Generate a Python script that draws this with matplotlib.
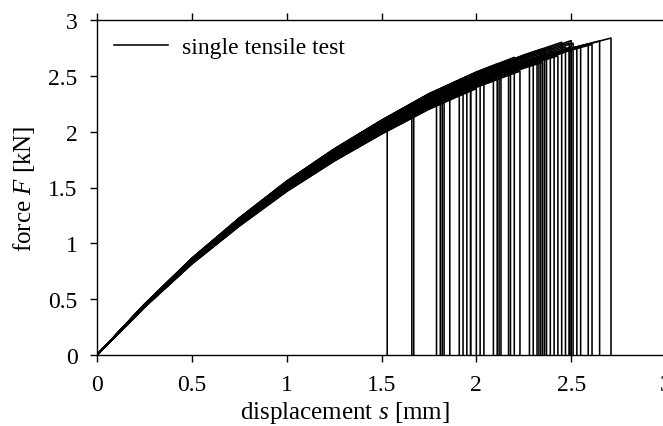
import numpy as np
import matplotlib
matplotlib.use("Agg")
import matplotlib.pyplot as plt

plt.rcParams['font.family'] = ['Liberation Serif', 'DejaVu Serif']
plt.rcParams['mathtext.fontset'] = 'custom'
plt.rcParams['mathtext.rm'] = 'Liberation Serif'
plt.rcParams['mathtext.it'] = 'Liberation Serif:italic'

# master force-displacement curve
base_s = [0.0, 0.25, 0.5, 0.75, 1.0, 1.25, 1.5, 1.75, 2.0, 2.25, 2.5, 2.75]
base_F = [0.0, 0.44, 0.84, 1.19, 1.51, 1.79, 2.04, 2.27, 2.46, 2.62, 2.76, 2.87]

# displacement at failure of each single tensile test [mm]
fail_s = [1.53, 1.66, 1.67, 1.79, 1.81, 1.82, 1.83, 1.86, 1.91, 1.93,
          1.95, 1.97, 1.97, 2.00, 2.02, 2.04, 2.09, 2.11, 2.12, 2.13,
          2.17, 2.18, 2.20, 2.23, 2.28, 2.30, 2.32, 2.33, 2.34, 2.35,
          2.36, 2.37, 2.39, 2.41, 2.43, 2.45, 2.47, 2.49, 2.49, 2.50,
          2.50, 2.51, 2.53, 2.55, 2.59, 2.61, 2.65, 2.71]
# stiffness factor of each test relative to the master curve
stiff = [0.975, 1.015, 0.990, 1.030, 0.980, 1.005, 0.970, 1.025, 1.000, 0.980,
         1.030, 0.990, 1.015, 0.970, 1.025, 1.000, 0.985, 1.030, 1.005, 0.975,
         1.015, 0.990, 1.030, 0.975, 1.005, 1.020, 0.985, 1.000, 1.025, 0.980,
         1.015, 0.990, 1.020, 1.000, 0.985, 1.025, 1.005, 1.015, 0.990, 1.020,
         1.000, 1.010, 0.995, 0.990, 0.995, 0.990, 0.995, 0.995]

xticks = [0, 0.5, 1, 1.5, 2, 2.5, 3]
yticks = [0, 0.5, 1, 1.5, 2, 2.5, 3]

fig = plt.figure(figsize=(6.63, 4.27), dpi=100)
ax = fig.add_axes([97/663, 71/427, 569/663, 335/427])

bs = np.array(base_s)
bF = np.array(base_F)
for i, (sf, k) in enumerate(zip(fail_s, stiff)):
    m = bs < sf
    F_end = k * np.interp(sf, bs, bF)
    xs = np.concatenate([bs[m], [sf, sf]])
    ys = np.concatenate([k * bF[m], [F_end, 0.0]])
    ax.plot(xs, ys, color='black', lw=1.15,
            label='single tensile test' if i == 0 else None)

ax.set_xlim(0, 3)
ax.set_ylim(0, 3)
ax.set_xticks(xticks)
ax.set_yticks(yticks)
ax.set_xticklabels([f'{v:g}' for v in xticks])
ax.set_yticklabels([f'{v:g}' for v in yticks])
ax.tick_params(direction='out', length=5, width=1, labelsize=17, pad=9,
               top=True, right=True)
for sp in ax.spines.values():
    sp.set_linewidth(1.0)

ax.set_xlabel(r'displacement $s$ [mm]', fontsize=18)
ax.set_ylabel(r'force $F$ [kN]', fontsize=18)
ax.xaxis.set_label_coords(0.4365, -0.13)
ax.yaxis.set_label_coords(-0.106, 0.5)

leg = ax.legend(loc='upper left', bbox_to_anchor=(0.0, 1.0), frameon=False,
                fontsize=17, handlelength=2.3, handletextpad=0.6,
                borderpad=0.3, borderaxespad=0.4)

fig.savefig('out.png', dpi=100)
